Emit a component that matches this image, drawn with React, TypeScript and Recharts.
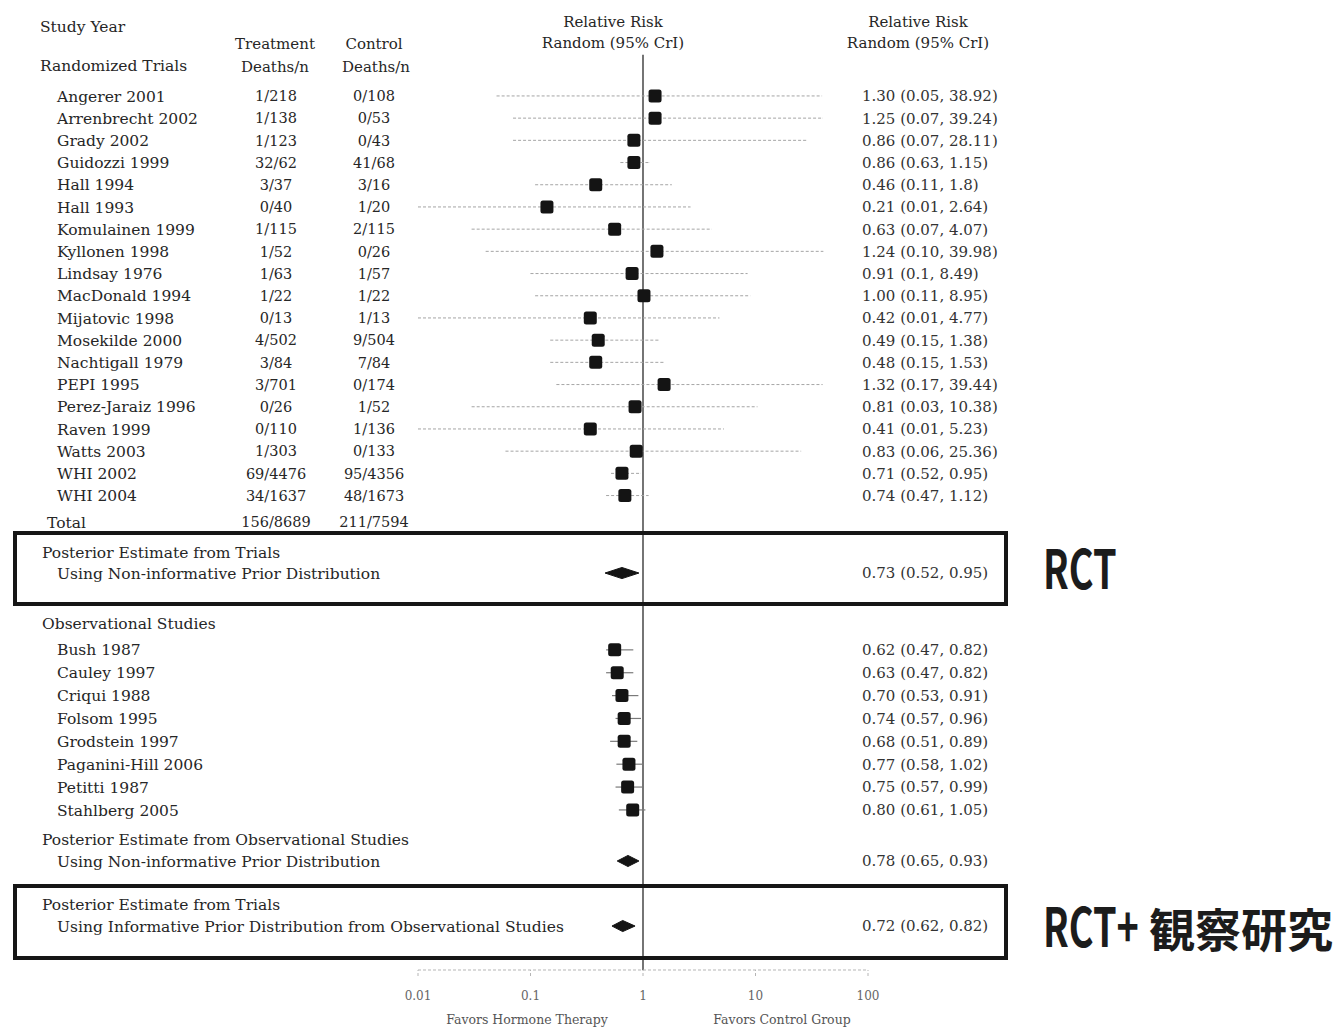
import React from "react";
import { ScatterChart, Scatter, XAxis, YAxis, ErrorBar, ReferenceLine } from "recharts";

// randomized trials (plotted estimate read from the square, CrI from the text column)
const trialNames = [
  "Angerer 2001", "Arrenbrecht 2002", "Grady 2002", "Guidozzi 1999", "Hall 1994",
  "Hall 1993", "Komulainen 1999", "Kyllonen 1998", "Lindsay 1976", "MacDonald 1994",
  "Mijatovic 1998", "Mosekilde 2000", "Nachtigall 1979", "PEPI 1995", "Perez-Jaraiz 1996",
  "Raven 1999", "Watts 2003", "WHI 2002", "WHI 2004",
];
const trialTreat = [
  "1/218", "1/138", "1/123", "32/62", "3/37", "0/40", "1/115", "1/52", "1/63", "1/22",
  "0/13", "4/502", "3/84", "3/701", "0/26", "0/110", "1/303", "69/4476", "34/1637",
];
const trialControl = [
  "0/108", "0/53", "0/43", "41/68", "3/16", "1/20", "2/115", "0/26", "1/57", "1/22",
  "1/13", "9/504", "7/84", "0/174", "1/52", "1/136", "0/133", "95/4356", "48/1673",
];
const trialEst = [1.28, 1.28, 0.83, 0.83, 0.38, 0.14, 0.56, 1.33, 0.8, 1.02, 0.34, 0.4, 0.38, 1.54, 0.85, 0.34, 0.87, 0.65, 0.69];
const trialLo = [0.05, 0.07, 0.07, 0.63, 0.11, 0.01, 0.03, 0.04, 0.1, 0.11, 0.01, 0.15, 0.15, 0.17, 0.03, 0.01, 0.06, 0.52, 0.47];
const trialHi = [38.92, 39.24, 28.11, 1.15, 1.8, 2.64, 4.07, 39.98, 8.49, 8.95, 4.77, 1.38, 1.53, 39.44, 10.38, 5.23, 25.36, 0.95, 1.12];
const trialLabels = [
  "1.30 (0.05, 38.92)", "1.25 (0.07, 39.24)", "0.86 (0.07, 28.11)", "0.86 (0.63, 1.15)",
  "0.46 (0.11, 1.8)", "0.21 (0.01, 2.64)", "0.63 (0.07, 4.07)", "1.24 (0.10, 39.98)",
  "0.91 (0.1, 8.49)", "1.00 (0.11, 8.95)", "0.42 (0.01, 4.77)", "0.49 (0.15, 1.38)",
  "0.48 (0.15, 1.53)", "1.32 (0.17, 39.44)", "0.81 (0.03, 10.38)", "0.41 (0.01, 5.23)",
  "0.83 (0.06, 25.36)", "0.71 (0.52, 0.95)", "0.74 (0.47, 1.12)",
];
const totalTreat = "156/8689";
const totalControl = "211/7594";

// observational studies
const obsNames = [
  "Bush 1987", "Cauley 1997", "Criqui 1988", "Folsom 1995", "Grodstein 1997",
  "Paganini-Hill 2006", "Petitti 1987", "Stahlberg 2005",
];
const obsEst = [0.56, 0.59, 0.65, 0.68, 0.68, 0.75, 0.73, 0.81];
const obsLo = [0.47, 0.47, 0.53, 0.57, 0.51, 0.58, 0.57, 0.61];
const obsHi = [0.82, 0.82, 0.91, 0.96, 0.89, 1.02, 0.99, 1.05];
const obsLabels = [
  "0.62 (0.47, 0.82)", "0.63 (0.47, 0.82)", "0.70 (0.53, 0.91)", "0.74 (0.57, 0.96)",
  "0.68 (0.51, 0.89)", "0.77 (0.58, 1.02)", "0.75 (0.57, 0.99)", "0.80 (0.61, 1.05)",
];

// posterior (pooled) estimates: diamonds
const pooledTitles = [
  "Posterior Estimate from Trials",
  "Posterior Estimate from Observational Studies",
  "Posterior Estimate from Trials",
];
const pooledSubtitles = [
  "Using Non-informative Prior Distribution",
  "Using Non-informative Prior Distribution",
  "Using Informative Prior Distribution from Observational Studies",
];
const pooledEst = [0.65, 0.735, 0.66];
const pooledLo = [0.46, 0.59, 0.53];
const pooledHi = [0.92, 0.92, 0.85];
const pooledLabels = ["0.73 (0.52, 0.95)", "0.78 (0.65, 0.93)", "0.72 (0.62, 0.82)"];

const xTicks = [0.01, 0.1, 1, 10, 100];
const xTickLabels = ["0.01", "0.1", "1", "10", "100"];

// ---- row layout (in row units) ----
type Row = {
  pos: number;
  kind: "study" | "total" | "title" | "sub" | "section";
  name: string;
  treat?: string;
  control?: string;
  label?: string;
};

const rows: Row[] = [];
const trialPos = trialNames.map((_, i) => i);
trialNames.forEach((n, i) =>
  rows.push({ pos: trialPos[i], kind: "study", name: n, treat: trialTreat[i], control: trialControl[i], label: trialLabels[i] })
);
const totalPos = trialPos[trialPos.length - 1] + 1.19;
rows.push({ pos: totalPos, kind: "total", name: "Total", treat: totalTreat, control: totalControl });

const pooledPos: number[] = [];
const p0Head = totalPos + 1.35;
rows.push({ pos: p0Head, kind: "title", name: pooledTitles[0] });
pooledPos.push(p0Head + 0.95);

const obsHead = pooledPos[0] + 2.25;
rows.push({ pos: obsHead, kind: "section", name: "Observational Studies" });
const obsPos = obsNames.map((_, i) => obsHead + 1.21 + i * 1.03);
obsNames.forEach((n, i) => rows.push({ pos: obsPos[i], kind: "study", name: n, label: obsLabels[i] }));

const p1Head = obsPos[obsPos.length - 1] + 1.35;
rows.push({ pos: p1Head, kind: "title", name: pooledTitles[1] });
pooledPos.push(p1Head + 0.95);
const p2Head = pooledPos[1] + 1.94;
rows.push({ pos: p2Head, kind: "title", name: pooledTitles[2] });
pooledPos.push(p2Head + 0.99);
pooledSubtitles.forEach((s, i) => rows.push({ pos: pooledPos[i], kind: "sub", name: s, label: pooledLabels[i] }));

const Y_MIN = -2.88;
const Y_MAX = 39.37;
const LINE_TOP = -1.85;

const trialData = trialNames.map((_, i) => ({
  x: trialEst[i],
  y: trialPos[i],
  err: [trialEst[i] - trialLo[i], trialHi[i] - trialEst[i]],
}));
const obsData = obsNames.map((_, i) => ({
  x: obsEst[i],
  y: obsPos[i],
  err: [obsEst[i] - obsLo[i], obsHi[i] - obsEst[i]],
}));
const HALF = 0.25;
const diamonds = pooledEst.map((e, i) => [
  { x: pooledLo[i], y: pooledPos[i] },
  { x: e, y: pooledPos[i] - HALF },
  { x: pooledHi[i], y: pooledPos[i] },
  { x: e, y: pooledPos[i] + HALF },
]);

const SERIF = '"DejaVu Serif", serif';
const INK = "#262626";

const Square = (props: any) => {
  const { cx, cy } = props;
  return <rect x={cx - 6.5} y={cy - 6.5} width={13} height={13} rx={2.5} fill="#141414" />;
};
const Nothing = () => <g />;
const DiamondFill = (props: any) => {
  const pts = (props.points || []).map((p: any) => `${p.x},${p.y}`).join(" ");
  return <polygon points={pts} fill="#141414" stroke="#141414" strokeWidth={1} />;
};

const renderRowTick = (props: any) => {
  const v = Number(props.payload?.value);
  const y = props.y;
  let row: Row | undefined;
  let best = Infinity;
  rows.forEach((r) => {
    const d = Math.abs(r.pos - v);
    if (d < best) {
      best = d;
      row = r;
    }
  });
  if (!row || best > 0.01) return <g />;
  const common = { y, dy: "0.36em", fontFamily: SERIF, fill: INK };
  const nameX = row.kind === "study" ? 57 : row.kind === "total" ? 47 : row.kind === "sub" ? 57 : 42;
  return (
    <g>
      <text {...common} x={nameX} fontSize={15.5} textAnchor="start">{row.name}</text>
      {row.treat && (
        <text {...common} x={276} fontSize={14.5} textAnchor="middle">{row.treat}</text>
      )}
      {row.control && (
        <text {...common} x={374} fontSize={14.5} textAnchor="middle">{row.control}</text>
      )}
      {row.label && (
        <text {...common} x={862} fontSize={15} textAnchor="start" fill="#333">{row.label}</text>
      )}
    </g>
  );
};

const Txt = ({ x, y, children, mid, size = 15, style }: any) => (
  <div
    style={{
      position: "absolute",
      left: x,
      top: y,
      transform: `translate(${mid ? "-50%" : "0"}, -50%)`,
      fontSize: size,
      lineHeight: 1,
      whiteSpace: "nowrap",
      color: INK,
      fontFamily: SERIF,
      ...style,
    }}
  >
    {children}
  </div>
);

const Box = ({ top, bottom }: { top: number; bottom: number }) => (
  <div
    style={{
      position: "absolute",
      left: 13,
      top,
      width: 1008 - 13,
      height: bottom - top,
      border: "4px solid #161616",
      boxSizing: "border-box",
      pointerEvents: "none",
    }}
  />
);

export default function App() {
  return (
    <div style={{ position: "absolute", left: 0, top: 0, width: 1340, height: 1030, background: "#fff", overflow: "hidden" }}>
      <div style={{ position: "absolute", left: 0, top: 0 }}>
        <ScatterChart width={1340} height={1030} margin={{ top: 32, right: 472, bottom: 20, left: 417 }}>
          <XAxis
            type="number"
            dataKey="x"
            scale="log"
            domain={[0.01, 100]}
            allowDataOverflow
            ticks={xTicks}
            tickFormatter={(v: number) => xTickLabels[xTicks.indexOf(v)] ?? String(v)}
            height={40}
            stroke="#b5b5b5"
            strokeDasharray="3 2"
            tickSize={6}
            tickMargin={15}
            tick={{ fill: "#666", fontSize: 12, fontFamily: SERIF }}
          />
          <YAxis
            type="number"
            dataKey="y"
            domain={[Y_MIN, Y_MAX]}
            allowDataOverflow
            reversed
            ticks={rows.map((r) => r.pos)}
            interval={0}
            width={1}
            axisLine={false}
            tickLine={false}
            tick={renderRowTick}
          />
          <ReferenceLine
            segment={[{ x: 1, y: LINE_TOP }, { x: 1, y: Y_MAX }]}
            stroke="#3a3a3a"
            strokeWidth={1.4}
          />
          <Scatter data={trialData} shape={Square} isAnimationActive={false}>
            <ErrorBar dataKey="err" direction="x" width={0} stroke="#a5a5a5" strokeWidth={1} strokeDasharray="3 2" isAnimationActive={false} />
          </Scatter>
          <Scatter data={obsData} shape={Square} isAnimationActive={false}>
            <ErrorBar dataKey="err" direction="x" width={0} stroke="#7a7a7a" strokeWidth={1.2} isAnimationActive={false} />
          </Scatter>
          {diamonds.map((d, i) => (
            <Scatter key={i} data={d} shape={Nothing} line={DiamondFill} isAnimationActive={false} />
          ))}
        </ScatterChart>
      </div>

      {/* column headers */}
      <Txt x={40} y={28} size={15.5}>Study Year</Txt>
      <Txt x={40} y={67} size={15.5}>Randomized Trials</Txt>
      <Txt x={275} y={44} size={15} mid>Treatment</Txt>
      <Txt x={275} y={67} size={15} mid>Deaths/n</Txt>
      <Txt x={374} y={44} size={15} mid>Control</Txt>
      <Txt x={376} y={67} size={15} mid>Deaths/n</Txt>
      <Txt x={613} y={22} size={15} mid>Relative Risk</Txt>
      <Txt x={613} y={43} size={15} mid>Random (95% CrI)</Txt>
      <Txt x={918} y={22} size={15} mid>Relative Risk</Txt>
      <Txt x={918} y={43} size={15} mid>Random (95% CrI)</Txt>

      <Box top={531} bottom={606} />
      <Box top={884} bottom={960} />

      <Txt x={527} y={1020} size={12.5} mid style={{ color: "#555" }}>Favors Hormone Therapy</Txt>
      <Txt x={782} y={1020} size={12.5} mid style={{ color: "#555" }}>Favors Control Group</Txt>

      <div style={{ position: "absolute", left: 1043, top: 566, transform: "translateY(-50%)", fontFamily: '"Noto Sans CJK JP", sans-serif', fontWeight: 700, color: "#1c1c1c", lineHeight: 1, whiteSpace: "nowrap" }}>
        <span style={{ display: "inline-block", fontSize: 54, width: 72, transform: "scaleX(0.7)", transformOrigin: "left center" }}>RCT</span>
      </div>
      <div style={{ position: "absolute", left: 1043, top: 924, transform: "translateY(-50%)", fontFamily: '"Noto Sans CJK JP", sans-serif', fontWeight: 700, color: "#1c1c1c", lineHeight: 1, whiteSpace: "nowrap" }}>
        <span style={{ display: "inline-block", fontSize: 54, width: 106, transform: "scaleX(0.7)", transformOrigin: "left center" }}>RCT+</span>
        <span style={{ fontSize: 46 }}>観察研究</span>
      </div>
    </div>
  );
}
